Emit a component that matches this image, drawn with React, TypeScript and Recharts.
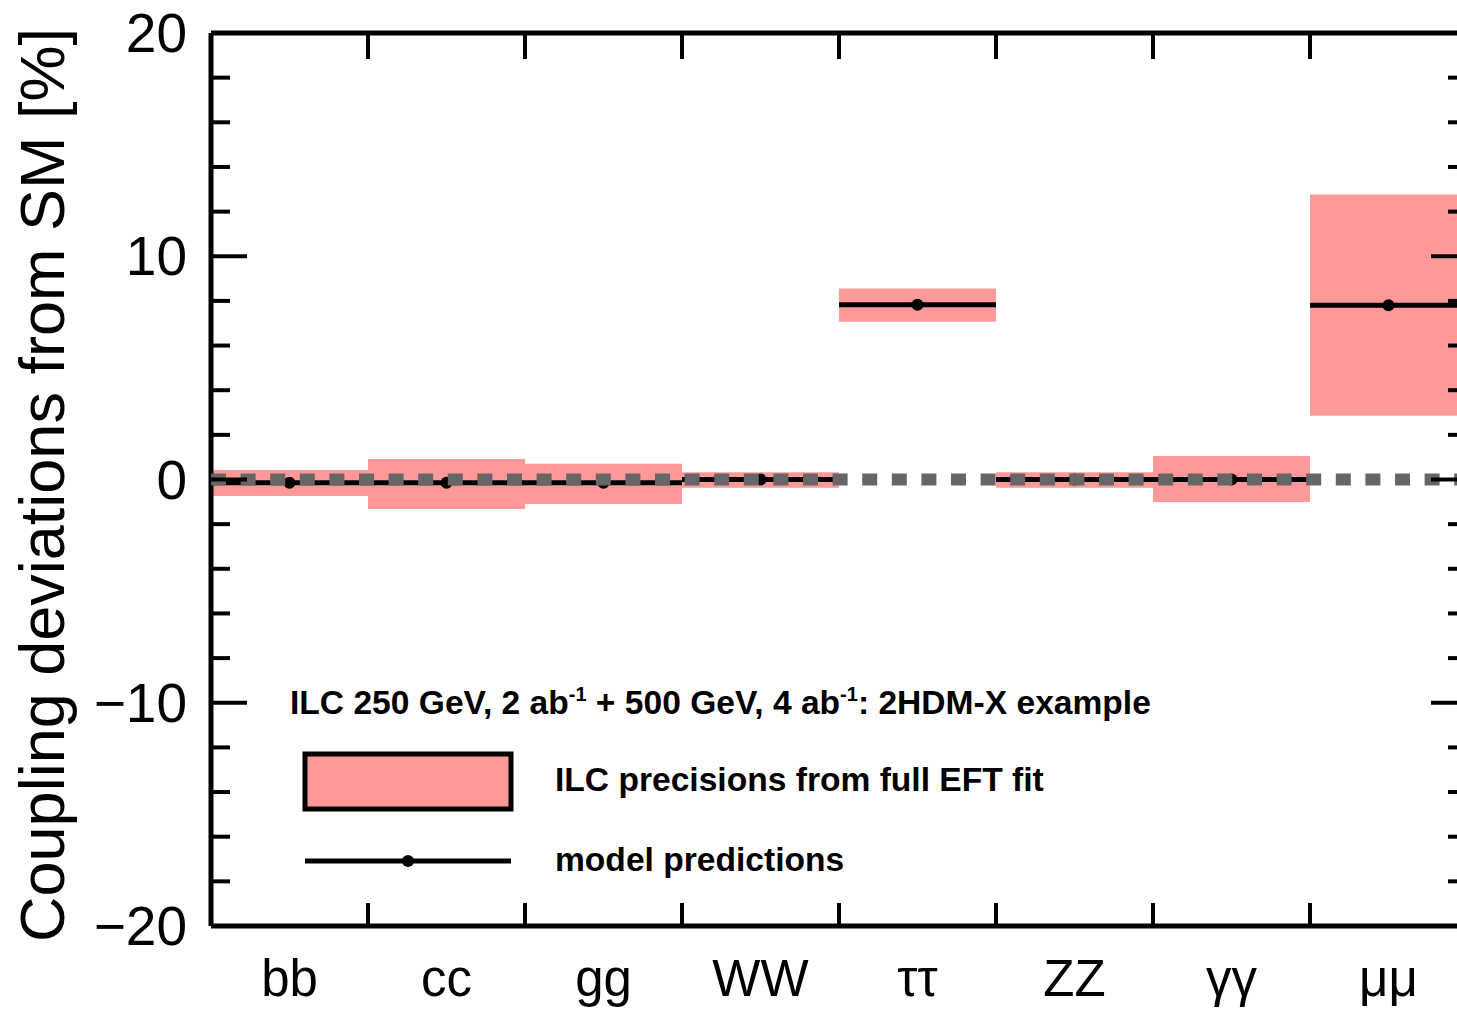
import React from 'react';
import {
  ComposedChart,
  XAxis,
  YAxis,
  ReferenceArea,
  ReferenceLine,
  Scatter,
  Customized,
} from 'recharts';

// ---- data ----
const channels = ['bb', 'cc', 'gg', 'WW', 'ττ', 'ZZ', 'γγ', 'μμ'];
const precisionLow = [-0.74, -1.32, -1.1, -0.37, 7.07, -0.37, -1.01, 2.86];
const precisionHigh = [0.43, 0.92, 0.71, 0.32, 8.56, 0.32, 1.05, 12.77];
const predictions = [-0.15, -0.15, -0.15, 0.0, 7.83, 0.0, 0.0, 7.8];
const yTicks = [-20, -18, -16, -14, -12, -10, -8, -6, -4, -2, 0, 2, 4, 6, 8, 10, 12, 14, 16, 18, 20];
const yLabelTicks = [-20, -10, 0, 10, 20];
const boundaryTicks = [0, 1, 2, 3, 4, 5, 6, 7, 8];
const labelTicks = [0.5, 1.5, 2.5, 3.5, 4.5, 5.5, 6.5, 7.5];

const legendTitle = ['ILC 250 GeV, 2 ab', '-1', ' + 500 GeV, 4 ab', '-1', ': 2HDM-X example'];
const legendBoxText = 'ILC precisions from full EFT fit';
const legendLineText = 'model predictions';

const PINK = '#ff9999';
const FONT = "'Liberation Sans', Arial, Helvetica, sans-serif";

const dotData = predictions.map((p, i) => ({ x: i + 0.5, y: p }));
const bottomTicks = [...boundaryTicks, ...labelTicks].sort((a, b) => a - b);

const fmtNum = (v: number) => (v < 0 ? '\u2212' + Math.abs(v) : String(v));

const LeftTick = (props: any) => {
  const { x, y, payload } = props;
  const v = payload.value;
  const major = v % 10 === 0;
  return (
    <g>
      <line x1={x} y1={y} x2={x + (major ? 36 : 19)} y2={y} stroke="#000" strokeWidth={4} />
      {yLabelTicks.includes(v) && (
        <text x={x - 24} y={y + 19} textAnchor="end" fontSize={55} fontFamily={FONT} fill="#000">
          {fmtNum(v)}
        </text>
      )}
    </g>
  );
};

const RightTick = (props: any) => {
  const { x, y, payload } = props;
  const major = payload.value % 10 === 0;
  return <line x1={x} y1={y} x2={x - (major ? 36 : 19)} y2={y} stroke="#000" strokeWidth={4} />;
};

const BottomTick = (props: any) => {
  const { x, y, payload } = props;
  const v = payload.value;
  if (Number.isInteger(v)) {
    return <line x1={x} y1={y} x2={x} y2={y - 23} stroke="#000" strokeWidth={4} />;
  }
  const idx = labelTicks.indexOf(v);
  return (
    <text x={x} y={y + 70} textAnchor="middle" fontSize={51} fontFamily={FONT} fill="#000">
      {channels[idx]}
    </text>
  );
};

const TopTick = (props: any) => {
  const { x, y } = props;
  return <line x1={x} y1={y} x2={x} y2={y + 26} stroke="#000" strokeWidth={4} />;
};

const LegendBlock = () => (
  <g fontFamily={FONT} fill="#000">
    <text x={290} y={714} fontSize={33.6} fontWeight="bold">
      <tspan>{legendTitle[0]}</tspan>
      <tspan fontSize={20} dy={-13}>{legendTitle[1]}</tspan>
      <tspan dy={13}>{legendTitle[2]}</tspan>
      <tspan fontSize={20} dy={-13}>{legendTitle[3]}</tspan>
      <tspan dy={13}>{legendTitle[4]}</tspan>
    </text>
    <rect x={305} y={754} width={206} height={55} fill={PINK} stroke="#000" strokeWidth={5} />
    <text x={555} y={791} fontSize={33.6} fontWeight="bold">
      {legendBoxText}
    </text>
    <line x1={305} y1={861} x2={511} y2={861} stroke="#000" strokeWidth={5} />
    <circle cx={408} cy={861} r={6} fill="#000" />
    <text x={555} y={871} fontSize={33.6} fontWeight="bold">
      {legendLineText}
    </text>
  </g>
);

const YLabel = () => (
  <text
    transform="translate(64, 485) rotate(-90)"
    textAnchor="middle"
    fontSize={63}
    fontFamily={FONT}
    fill="#000"
  >
    Coupling deviations from SM [%]
  </text>
);

const Dot = (props: any) => <circle cx={props.cx} cy={props.cy} r={6} fill="#000" />;

export default function App() {
  return (
    <div style={{ position: 'absolute', left: 0, top: 0, width: 1457, height: 1009, overflow: 'hidden', background: '#fff' }}>
      <ComposedChart width={1481} height={1009} data={dotData} margin={{ top: 0, right: 0, bottom: 0, left: 0 }}>
        <XAxis
          xAxisId="t"
          dataKey="x"
          orientation="top"
          type="number"
          domain={[0, 8]}
          allowDataOverflow
          ticks={boundaryTicks}
          height={33}
          tickSize={0}
          tickMargin={0}
          tickLine={false}
          axisLine={{ stroke: '#000', strokeWidth: 5 }}
          tick={<TopTick />}
          interval={0}
        />
        <XAxis
          xAxisId="b"
          dataKey="x"
          orientation="bottom"
          type="number"
          domain={[0, 8]}
          allowDataOverflow
          ticks={bottomTicks}
          height={83}
          tickSize={0}
          tickMargin={0}
          tickLine={false}
          axisLine={{ stroke: '#000', strokeWidth: 5 }}
          tick={<BottomTick />}
          interval={0}
        />
        <YAxis
          yAxisId="l"
          dataKey="y"
          orientation="left"
          type="number"
          domain={[-20, 20]}
          allowDataOverflow
          ticks={yTicks}
          width={211}
          tickSize={0}
          tickMargin={0}
          tickLine={false}
          axisLine={{ stroke: '#000', strokeWidth: 5 }}
          tick={<LeftTick />}
          interval={0}
        />
        <YAxis
          yAxisId="r"
          dataKey="y"
          orientation="right"
          type="number"
          domain={[-20, 20]}
          allowDataOverflow
          ticks={yTicks}
          width={14}
          tickSize={0}
          tickMargin={0}
          tickLine={false}
          axisLine={{ stroke: '#000', strokeWidth: 5 }}
          tick={<RightTick />}
          interval={0}
        />
        {channels.map((c, i) => (
          <ReferenceArea
            key={'a' + c}
            xAxisId="b"
            yAxisId="l"
            x1={i}
            x2={i + 1}
            y1={precisionLow[i]}
            y2={precisionHigh[i]}
            fill={PINK}
            fillOpacity={1}
            stroke="none"
            ifOverflow="visible"
          />
        ))}
        {channels.map((c, i) => (
          <ReferenceLine
            key={'p' + c}
            xAxisId="b"
            yAxisId="l"
            segment={[
              { x: i, y: predictions[i] },
              { x: i + 1, y: predictions[i] },
            ]}
            stroke="#000"
            strokeWidth={5}
            ifOverflow="visible"
          />
        ))}
        <Scatter
          xAxisId="b"
          yAxisId="l"
          dataKey="y"
          shape={<Dot />}
          isAnimationActive={false}
        />
        <ReferenceLine
          xAxisId="b"
          yAxisId="l"
          y={0}
          stroke="#666666"
          strokeWidth={12}
          strokeDasharray="15 14.6"
          zIndex={700}
        />
        <Customized component={LegendBlock} />
        <Customized component={YLabel} />
      </ComposedChart>
    </div>
  );
}
